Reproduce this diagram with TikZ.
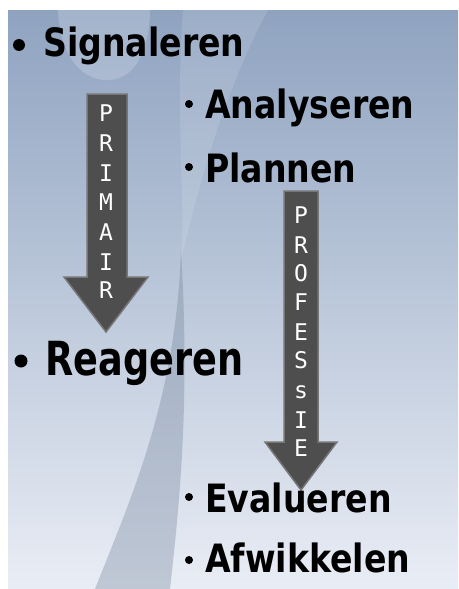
\documentclass[tikz,border=0pt]{standalone}
\usepackage{fontspec}
\usepackage{pdfrender}
\newfontfamily\itemfont{DejaVu Sans}[FakeStretch=0.85]
\newfontfamily\bigitemfont{DejaVu Sans}[FakeStretch=0.78]
\newfontfamily\letterfont{DejaVu Sans Mono}
\definecolor{slidetop}{HTML}{8FA3C0}
\definecolor{slidemid}{HTML}{B9C6D8}
\definecolor{slidebot}{HTML}{E9EDF5}
\definecolor{arrowgrey}{HTML}{4E4E4E}
\definecolor{arrowrim}{HTML}{767676}
\newcommand\rimtext[1]{{\color{white}\textpdfrender{TextRenderingMode=FillStroke, LineWidth=1.4pt, StrokeColor=black}{#1}}}
\tikzset{
  itemtext/.style={anchor=base west, inner sep=0pt, font=\itemfont\bfseries\fontsize{39}{39}\selectfont},
  bigitemtext/.style={anchor=base west, inner sep=0pt, font=\bigitemfont\bfseries\fontsize{47}{47}\selectfont},
  dotbullet/.style={circle, fill=black, inner sep=0pt, minimum size=#1},
  blockarrow/.style={fill=arrowgrey, draw=arrowrim, line width=1.5pt, line join=miter},
  arrowletter/.style={inner sep=0pt, font=\letterfont\fontsize{23}{23}\selectfont}
}
\begin{document}
\begin{tikzpicture}[x=1pt,y=-1pt]
        \useasboundingbox (0,0) rectangle (458,589);
        \fill[white] (0,0) rectangle (458,589);
        \shade[top color=slidetop, middle color=slidemid, bottom color=slidebot] (8,10) rectangle (458,589);
        % swooshes in the background
        \fill[white, opacity=0.18] (58,10) .. controls (60,60) and (85,82) .. (110,80) .. controls (140,78) and (150,40) .. (150,10) -- cycle;
        \fill[white, opacity=0.12] (183,10) .. controls (175,120) and (186,200) .. (181,260) .. controls (200,180) and (225,90) .. (268,10) -- cycle;
        \fill[slidetop!80!black, opacity=0.35] (181,250) .. controls (176,400) and (130,500) .. (95,589) -- (170,589) .. controls (180,500) and (190,400) .. (181,250) -- cycle;
        % the two arrows
        \draw[blockarrow] (87,94) -- (127,94) -- (127,277) -- (148,277) -- (106,332) -- (64,277) -- (87,277) -- cycle;
        \draw[blockarrow] (284,191) -- (318,191) -- (318,442) -- (337,442) -- (301,490) -- (265,442) -- (284,442) -- cycle;
        \foreach \Y/\L [count=\i] in {113/P,143/R,173/I,202/M,232/A,262/I,290/R}
        \node[arrowletter] (prim\i) at (106,\Y) {\rimtext{\L}};
        \foreach \Y/\L [count=\i] in {215/P,245/R,273/O,302/F,332/E,360/S,392/s,420/I,448/E}
        \node[arrowletter] (prof\i) at (301,\Y) {\rimtext{\L}};
        % items
        \foreach \Point/\Size/\Name in {(19,45)/12pt/b1, (21,361)/13pt/b4}
        \node[dotbullet=\Size] (\Name) at \Point {};
        \foreach \Point/\Name in {(189,104)/b2, (189,167)/b3, (189,497)/b5, (189,560)/b6}
        \node[dotbullet=8pt] (\Name) at \Point {};
        \node[itemtext] (signaleren) at (43,56) {Signaleren};
        \node[itemtext] (analyseren) at (205,118) {Analyseren};
        \node[itemtext] (plannen) at (205,182) {Plannen};
        \node[bigitemtext] (reageren) at (45,375) {Reageren};
        \node[itemtext] (evalueren) at (205,512) {Evalueren};
        \node[itemtext] (afwikkelen) at (205,572) {Afwikkelen};
\end{tikzpicture}
\end{document}
